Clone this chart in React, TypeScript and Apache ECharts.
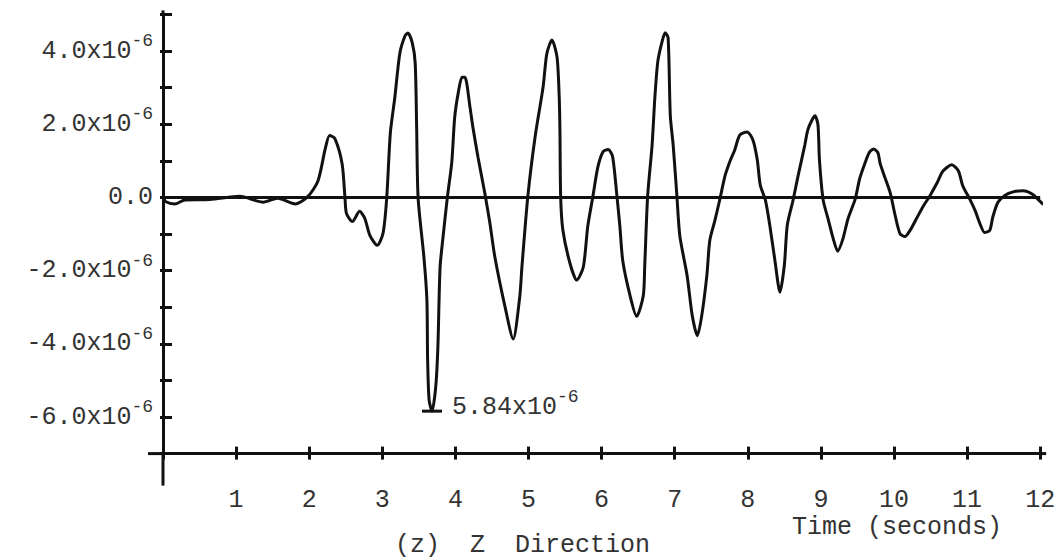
import React, { useEffect, useRef } from "react";
import * as echarts from "echarts";

// Time (s)
const times = [
  0.0, 0.04, 0.16, 0.3, 0.64, 1.05, 1.37, 1.57, 1.81, 1.98, 2.12, 2.22, 2.28, 2.35, 2.45, 2.49, 2.51, 2.59,
  2.69, 2.76, 2.83, 2.93, 3.01, 3.06, 3.11, 3.17, 3.24, 3.31, 3.35, 3.41, 3.45, 3.47, 3.49, 3.57, 3.61, 3.62,
  3.64, 3.68, 3.73, 3.76, 3.79, 3.83, 3.89, 3.95, 3.99, 4.04, 4.09, 4.13, 4.2, 4.24, 4.31, 4.4, 4.47, 4.54,
  4.68, 4.79, 4.88, 4.91, 4.99, 5.09, 5.2, 5.25, 5.32, 5.39, 5.42, 5.43, 5.44, 5.47, 5.57, 5.66, 5.75, 5.81,
  5.88, 5.95, 6.02, 6.09, 6.15, 6.21, 6.25, 6.29, 6.39, 6.48, 6.57, 6.59, 6.63, 6.69, 6.73, 6.77, 6.83, 6.87,
  6.91, 6.94, 6.98, 7.03, 7.07, 7.17, 7.24, 7.31, 7.37, 7.44, 7.48, 7.55, 7.62, 7.69, 7.76, 7.82, 7.89, 7.99,
  8.07, 8.13, 8.17, 8.24, 8.3, 8.37, 8.44, 8.5, 8.54, 8.62, 8.69, 8.78, 8.82, 8.88, 8.92, 8.96, 8.98, 9.03,
  9.1, 9.17, 9.23, 9.3, 9.37, 9.47, 9.53, 9.6, 9.66, 9.72, 9.78, 9.81, 9.88, 9.95, 10.01, 10.08, 10.15, 10.22,
  10.31, 10.4, 10.49, 10.59, 10.67, 10.79, 10.88, 10.94, 11.04, 11.11, 11.18, 11.24, 11.31, 11.35, 11.42,
  11.52, 11.63, 11.76, 11.9, 12.04, 12.16,
];

// Amplitude, in units of 1e-6
const values = [
  0.0, -0.12, -0.18, -0.07, -0.06, 0.03, -0.13, -0.02, -0.18, 0.02, 0.45, 1.33, 1.69, 1.61, 0.92, -0.03, -0.44,
  -0.66, -0.38, -0.57, -1.04, -1.31, -0.98, -0.03, 1.76, 2.71, 3.94, 4.41, 4.49, 4.22, 3.67, 1.9, -0.02, -1.65,
  -2.79, -4.43, -5.53, -5.84, -5.2, -4.11, -1.92, -1.1, 0.0, 0.95, 2.18, 2.87, 3.28, 3.28, 2.46, 1.91, 1.09,
  0.14, -0.68, -1.63, -3.0, -3.87, -2.72, -1.9, 0.01, 1.65, 3.02, 3.92, 4.3, 3.84, 2.75, 1.84, 0.01, -0.89,
  -1.82, -2.26, -1.9, -0.8, 0.02, 0.84, 1.25, 1.31, 1.12, 0.03, -0.79, -1.74, -2.69, -3.25, -2.69, -1.87, 0.04,
  1.41, 2.77, 3.73, 4.28, 4.5, 4.36, 2.23, 1.41, 0.04, -1.05, -2.14, -3.23, -3.78, -3.23, -2.13, -1.18, -0.63,
  -0.03, 0.6, 1.01, 1.29, 1.7, 1.79, 1.57, 1.02, 0.34, -0.07, -0.75, -1.71, -2.59, -1.85, -0.76, -0.07, 0.61,
  1.43, 1.84, 2.12, 2.23, 1.98, 1.03, -0.06, -0.6, -1.14, -1.47, -1.14, -0.59, -0.04, 0.51, 0.92, 1.22, 1.32,
  1.22, 0.93, 0.52, 0.11, -0.44, -0.98, -1.07, -0.9, -0.57, -0.24, 0.04, 0.4, 0.72, 0.89, 0.73, 0.32, -0.06,
  -0.36, -0.74, -0.96, -0.9, -0.55, -0.14, 0.06, 0.15, 0.18, 0.08, -0.18, -0.23,
];

const yLabelValues = [-6, -4, -2, 0, 2, 4];
const xLabelValues = [1, 2, 3, 4, 5, 6, 7, 8, 9, 10, 11, 12];
const peakTime = 3.68;
const peakValue = -5.84;
const peakText = "5.84x10";
const exponentText = "-6";
const xAxisTitle = "Time (seconds)";
const caption = "(z)  Z  Direction";

const FONT = "'Liberation Mono', 'DejaVu Sans Mono', monospace";
const INK = "#111";
const TEXT = "#333";

const rich = {
  b: { fontFamily: FONT, fontSize: 25, color: TEXT },
  s: { fontFamily: FONT, fontSize: 18, color: TEXT, padding: [0, 0, 20, 0] },
};

const X_MIN = 0;
const X_MAX = 12;
const Y_MIN = -7;
const Y_MAX = 5;

export default function App() {
  const ref = useRef<HTMLDivElement>(null);

  useEffect(() => {
    if (!ref.current) return;
    const chart = echarts.init(ref.current, undefined, { renderer: "svg" });
    const data = times.map((t, i) => [t, values[i]]);

    const baseX = { type: "value", min: X_MIN, max: X_MAX, interval: 1, splitLine: { show: false } };
    const baseY = { type: "value", min: Y_MIN, max: Y_MAX, interval: 1, splitLine: { show: false } };

    chart.setOption({
      animation: false,
      backgroundColor: "#fff",
      grid: { left: 163, top: 14.4, width: 877.2, height: 439.2, containLabel: false, outerBoundsMode: "none" },
      xAxis: [
        {
          ...baseX,
          axisLine: { onZero: false, lineStyle: { color: INK, width: 3 } },
          axisTick: { inside: true, length: 7, lineStyle: { color: INK, width: 3 } },
          axisLabel: {
            margin: 34,
            fontFamily: FONT,
            fontSize: 25,
            color: TEXT,
            formatter: (v: number) => (xLabelValues.includes(v) ? String(v) : ""),
          },
        },
        {
          ...baseX,
          position: "bottom",
          axisLine: { show: false, onZero: false },
          axisTick: { show: true, inside: false, length: 6, lineStyle: { color: INK, width: 3 } },
          axisLabel: { show: false },
        },
      ],
      yAxis: [
        {
          ...baseY,
          axisLine: { onZero: false, lineStyle: { color: INK, width: 3 } },
          axisTick: { inside: true, length: 9, lineStyle: { color: INK, width: 3 } },
          axisLabel: {
            margin: 10,
            rich,
            formatter: (v: number) => {
              if (!yLabelValues.includes(v)) return "";
              if (v === 0) return "{b|0.0}";
              return `{b|${v.toFixed(1)}x10}{s|${exponentText}}`;
            },
          },
        },
        {
          ...baseY,
          position: "left",
          axisLine: { show: false, onZero: false },
          axisTick: { show: true, inside: false, length: 3, lineStyle: { color: INK, width: 3 } },
          axisLabel: { show: false },
        },
      ],
      series: [
        {
          type: "line",
          data,
          smooth: 0.25,
          clip: false,
          symbol: "none",
          lineStyle: { color: INK, width: 3 },
          markLine: {
            silent: true,
            symbol: "none",
            label: { show: false },
            lineStyle: { color: INK, width: 3, type: "solid" },
            data: [{ yAxis: 0 }],
          },
          markPoint: {
            silent: true,
            data: [
              {
                coord: [peakTime, peakValue],
                symbol: "rect",
                symbolSize: [20, 3],
                itemStyle: { color: INK },
                label: {
                  show: true,
                  position: "right",
                  distance: 10,
                  offset: [0, -4],
                  rich,
                  formatter: `{b|${peakText}}{s|${exponentText}}`,
                },
              },
            ],
          },
        },
      ],
    });

    const origin = chart.convertToPixel({ gridIndex: 0 }, [X_MIN, Y_MIN]) as number[];
    const topPt = chart.convertToPixel({ gridIndex: 0 }, [X_MIN, Y_MAX]) as number[];
    const endPt = chart.convertToPixel({ gridIndex: 0 }, [X_MAX, Y_MIN]) as number[];
    chart.setOption({
      graphic: [
        {
          type: "line",
          shape: { x1: origin[0] - 15, y1: origin[1], x2: origin[0], y2: origin[1] },
          style: { stroke: INK, lineWidth: 3 },
        },
        {
          type: "line",
          shape: { x1: origin[0], y1: origin[1], x2: origin[0], y2: origin[1] + 32 },
          style: { stroke: INK, lineWidth: 3 },
        },
        {
          type: "line",
          shape: { x1: topPt[0], y1: topPt[1] - 4, x2: topPt[0], y2: topPt[1] },
          style: { stroke: INK, lineWidth: 3 },
        },
        {
          type: "line",
          shape: { x1: endPt[0], y1: endPt[1], x2: endPt[0] + 6, y2: endPt[1] },
          style: { stroke: INK, lineWidth: 3 },
        },
        {
          type: "text",
          x: 792,
          y: 527,
          style: { text: xAxisTitle, font: `25px ${FONT}`, fill: TEXT, align: "left", verticalAlign: "middle" },
        },
        {
          type: "text",
          x: 395,
          y: 545,
          style: { text: caption, font: `25px ${FONT}`, fill: TEXT, align: "left", verticalAlign: "middle" },
        },
      ],
    });

    return () => chart.dispose();
  }, []);

  return (
    <div
      ref={ref}
      style={{ position: "absolute", left: 0, top: 0, width: 1059, height: 558, background: "#fff" }}
    />
  );
}
